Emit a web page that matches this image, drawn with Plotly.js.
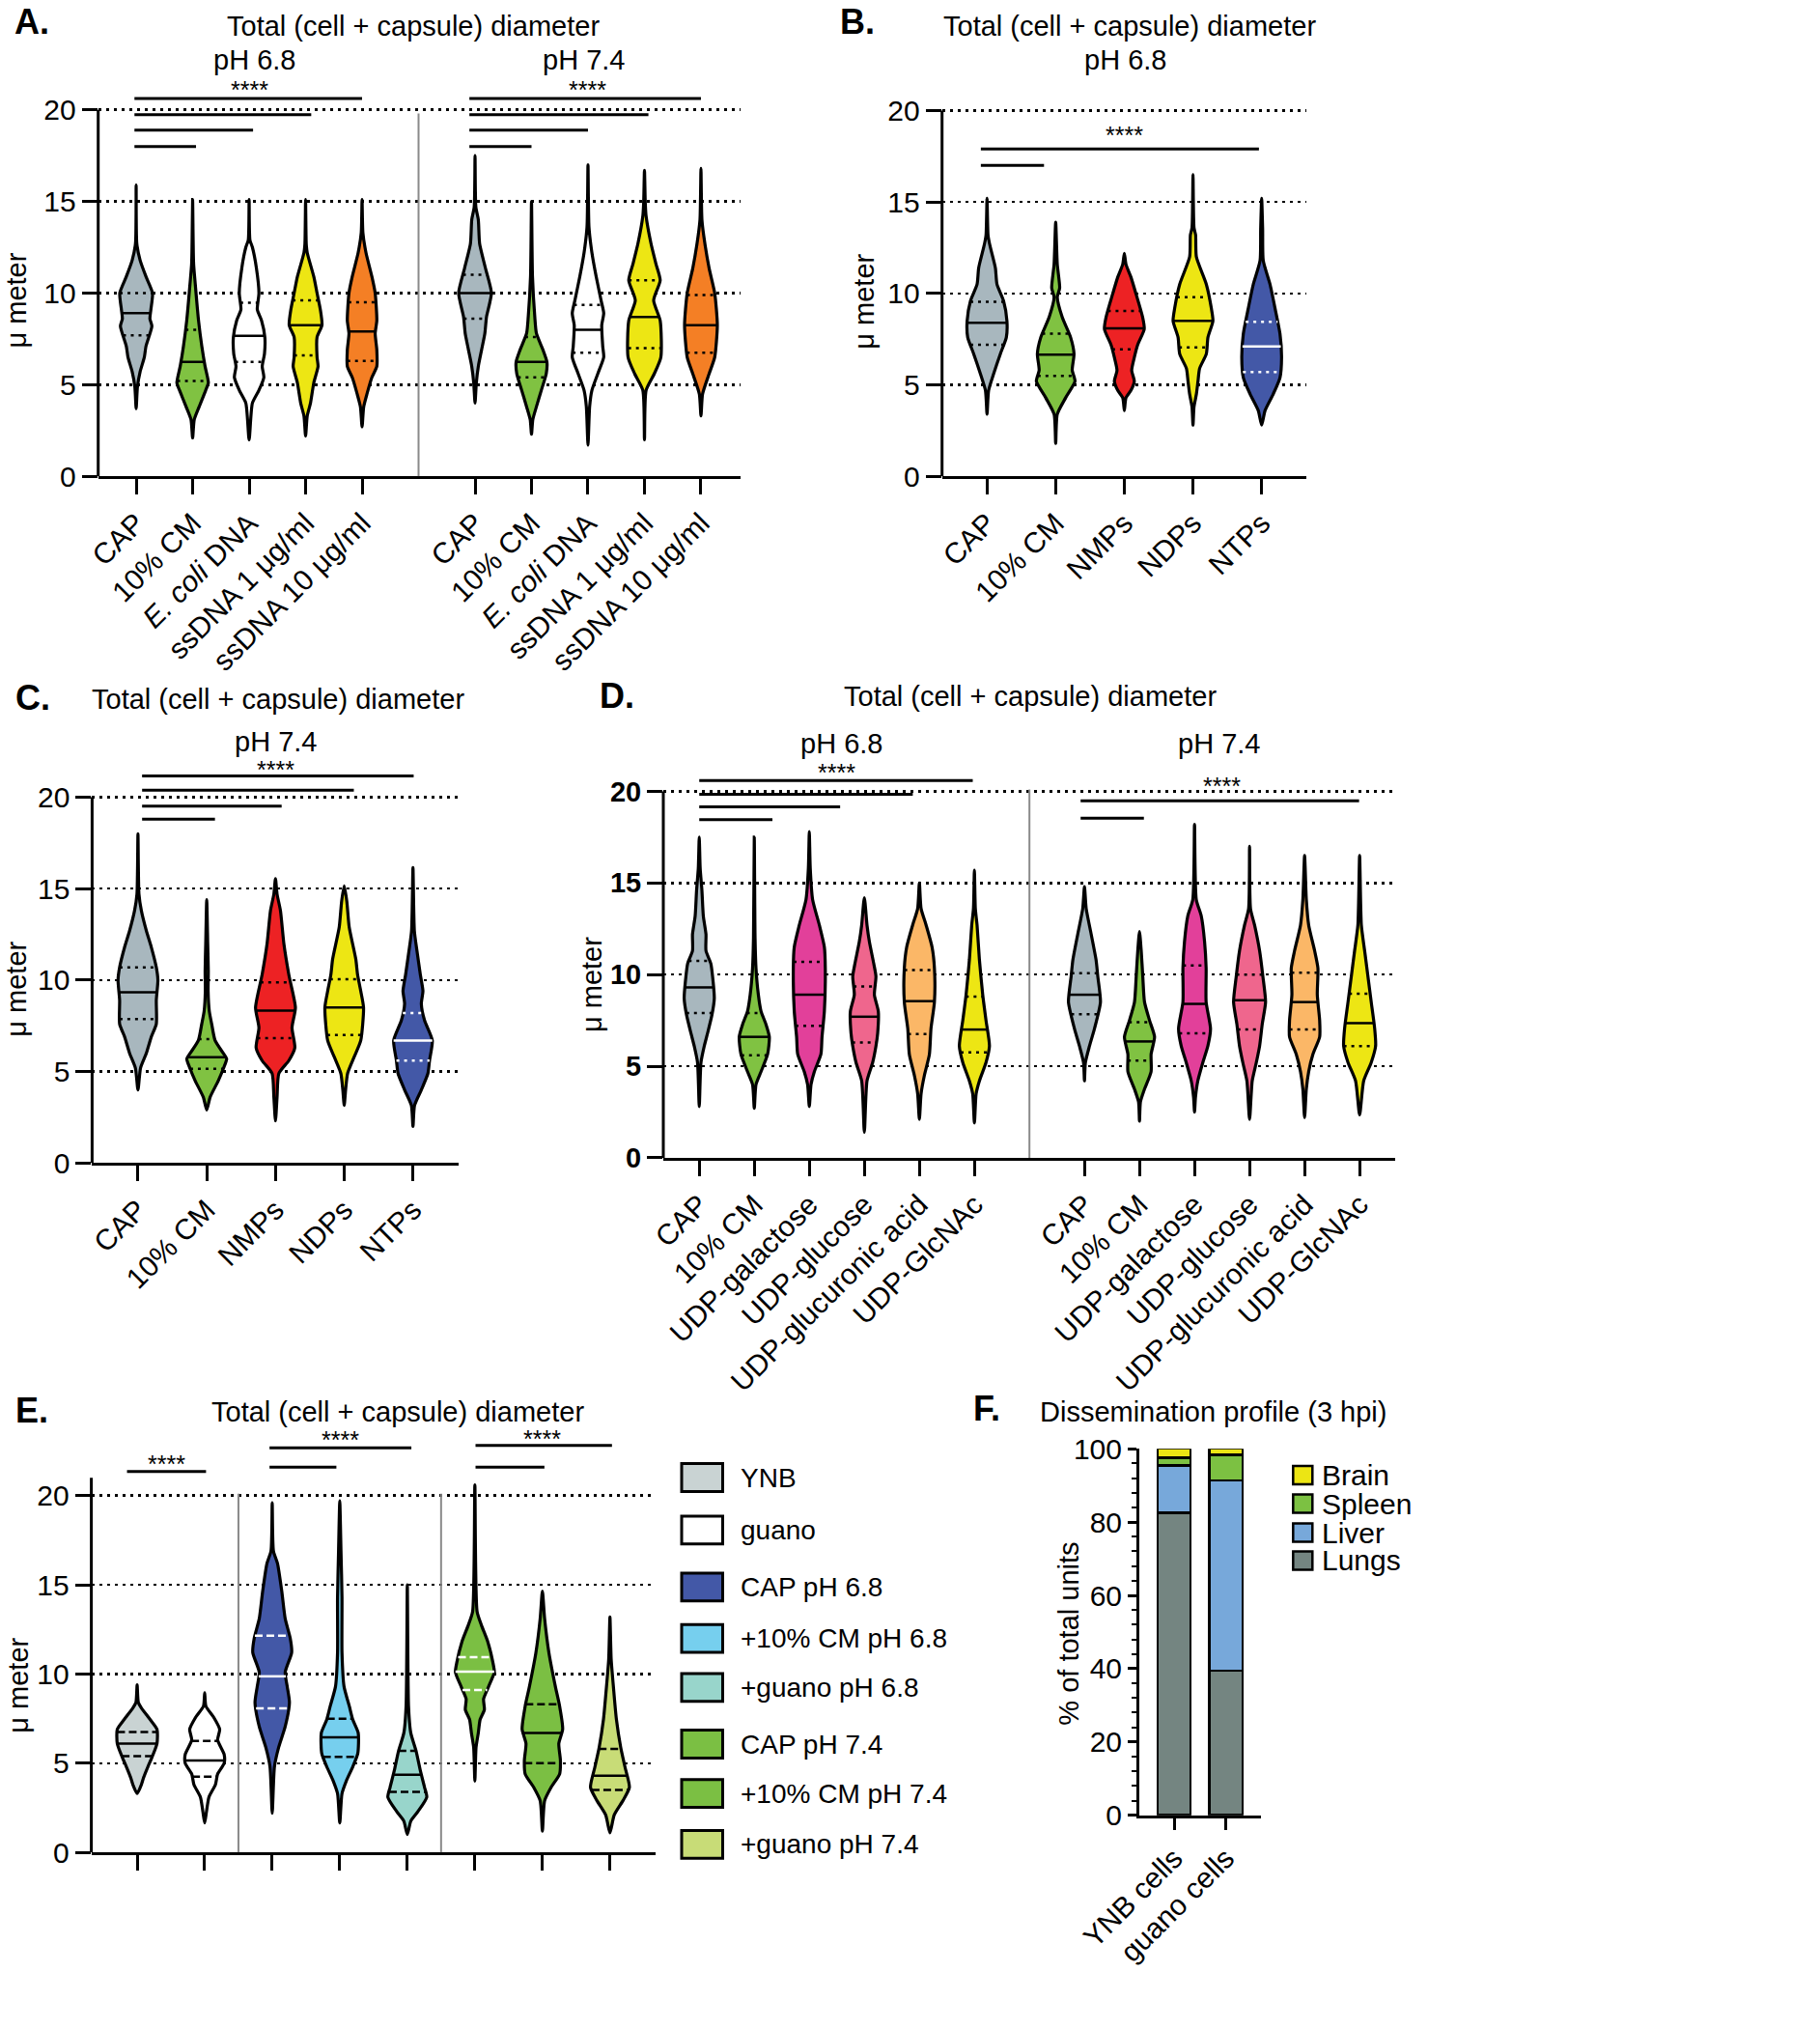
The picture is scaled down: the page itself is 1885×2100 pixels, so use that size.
<!DOCTYPE html>
<html>
<head>
<meta charset="utf-8">
<script src="https://cdn.plot.ly/plotly-3.0.1.min.js"></script>
<style>
  body{margin:0;background:#fff}
  #fig{width:1885px;height:2100px}
</style>
</head>
<body>
<div id="fig"></div>
<script>
// capsule diameter violins (A-E) + dissemination stacked bars (F)
const FONT='"Liberation Sans", Arial, sans-serif';
const W=1885, H=2100;
const px=x=>x/W, py=y=>1-y/H;

const GRAY='#a8b7be', GREEN='#80c242', WHITE='#ffffff', YELLOW='#ede614', ORANGE='#f47f25',
      RED='#ed2224', BLUE='#4358a7', MAGENTA='#e2409a', PINK='#ef668d', LORANGE='#fbb767';

// ---- Panel A : pH 6.8 | pH 7.4 ----
const A_pos=[0,1,2,3,4,6,7,8,9,10];
const A_cats=['CAP','10% CM','<i>E. coli</i> DNA','ssDNA 1 μg/ml','ssDNA 10 μg/ml'];
const A_labels=A_cats.concat(A_cats);
// [y, relative half width] bottom -> top
const A_shape=[
  [[3.7,0],[4.9,.08],[5.7,.24],[6.5,.5],[7.1,.6],[8.2,.96],[8.6,.84],[9.1,.9],[10.0,1],[10.9,.6],[11.8,.24],[12.7,.04],[15.9,0]],
  [[2.1,0],[3.1,.1],[3.8,.4],[4.7,.8],[5.1,.96],[6.0,.76],[7.1,.56],[8.5,.36],[10.5,.16],[11.6,.06],[13,.03],[15.1,0]],
  [[2.0,0],[4.0,.2],[4.7,.6],[5.4,.9],[6.0,.8],[6.7,.94],[7.6,.96],[8.5,.76],[9.1,.5],[10.0,.6],[11.4,.44],[12.5,.2],[12.9,.05],[15.1,0]],
  [[2.2,0],[3.3,.1],[4.0,.3],[5.1,.5],[6.0,.76],[6.5,.7],[7.6,.7],[8.25,1],[9.1,.9],[10.0,.7],[10.9,.5],[12.2,.1],[12.7,.04],[15.1,0]],
  [[2.7,0],[3.8,.1],[4.5,.3],[5.4,.6],[6.0,.9],[6.9,.9],[7.8,.8],[8.5,.9],[10.0,.8],[10.9,.6],[12.2,.24],[13.3,.05],[15.1,0]],
  [[4.0,0],[5.1,.08],[6.0,.2],[6.9,.4],[7.8,.6],[8.7,.7],[10.0,1],[11.35,.64],[12.7,.28],[14.0,.2],[14.7,.05],[17.5,0]],
  [[2.3,0],[3.1,.08],[3.8,.3],[4.7,.6],[5.6,.9],[6.25,.94],[6.9,.7],[7.8,.3],[8.7,.2],[10.9,.06],[15.0,0]],
  [[1.7,0],[3.8,.1],[4.7,.24],[5.6,.6],[6.5,.96],[7.1,.9],[8.25,.84],[8.9,.96],[9.6,.8],[10.9,.5],[12.2,.24],[13.6,.06],[17.0,0]],
  [[2.0,0],[4.7,.1],[5.6,.6],[6.5,1],[8.5,.96],[9.6,.56],[10.7,.96],[11.6,.7],[12.7,.4],[14.2,.1],[14.9,.05],[16.7,0]],
  [[3.3,0],[4.5,.1],[5.6,.5],[6.5,.84],[8.25,1],[10.0,.84],[11.35,.5],[12.7,.24],[14.0,.06],[16.8,0]]
];
const A_median=[8.9,6.25,7.67,8.25,7.9,10.0,6.25,8.0,8.7,8.25];
const A_q1=[7.7,5.2,6.25,6.6,6.3,8.6,5.4,6.75,7.0,6.75];
const A_q3=[10.0,8.0,9.47,9.6,9.5,11.0,7.6,9.35,10.7,9.9];
const A_fill=[GRAY,GREEN,WHITE,YELLOW,ORANGE,GRAY,GREEN,WHITE,YELLOW,ORANGE];
const A_sig=[[-0.03,4,20.62],[-0.03,3.1,19.73],[-0.03,2.07,18.89],[-0.03,1.06,18.0],
             [5.9,10,20.62],[5.9,9.07,19.73],[5.9,8,18.89],[5.9,7,18.0]];
const A_stars=[[2,21.1],[8,21.1]];

// ---- Panel B : pH 6.8 nucleotides ----
const B_pos=[0,1,2,3,4];
const B_labels=['CAP','10% CM','NMPs','NDPs','NTPs'];
const B_shape=[
  [[3.4,0],[4.7,.08],[5.6,.33],[6.7,.67],[7.6,.97],[8.5,1],[9.6,.83],[10.5,.5],[11.4,.42],[12.7,.13],[13.2,.05],[15.2,0]],
  [[1.8,0],[3.4,.08],[4.3,.5],[5.2,.97],[5.8,.83],[6.7,.92],[7.6,.75],[8.7,.33],[9.8,.08],[10.3,.2],[11.6,.08],[13.9,0]],
  [[3.6,0],[4.3,.08],[4.7,.33],[5.2,.5],[5.8,.37],[6.5,.5],[7.2,.67],[8.05,1],[8.7,.92],[10.0,.58],[10.9,.33],[11.6,.08],[12.2,0]],
  [[2.8,0],[3.8,.05],[4.5,.17],[5.2,.25],[5.9,.33],[6.7,.67],[7.6,.75],[8.5,1],[9.2,.92],[10.5,.67],[12.0,.17],[13.2,.13],[13.6,.05],[16.5,0]],
  [[2.8,0],[3.6,.17],[4.5,.58],[5.4,.92],[6.5,1],[7.8,.92],[9.2,.67],[10.5,.42],[11.8,.08],[13.5,.05],[15.2,0]]
];
const B_median=[8.4,6.65,8.1,8.5,7.1];
const B_q1=[7.2,5.5,6.95,7.05,5.7];
const B_q3=[9.55,7.8,9.05,9.8,8.45];
const B_fill=[GRAY,GREEN,RED,YELLOW,BLUE];
const B_sig=[[-0.09,3.96,17.9],[-0.09,0.83,17.0]];
const B_stars=[[2,18.66]];

// ---- Panel C : pH 7.4 nucleotides ----
const C_pos=[0,1,2,3,4];
const C_labels=['CAP','10% CM','NMPs','NDPs','NTPs'];
const C_shape=[
  [[4.0,0],[5.2,.13],[6.0,.42],[6.9,.67],[7.6,.92],[8.9,.92],[10.0,1],[10.7,.92],[11.8,.67],[12.7,.42],[13.8,.17],[14.7,.05],[18.0,0]],
  [[2.9,0],[3.6,.17],[4.5,.58],[5.15,.83],[5.7,1],[6.0,.83],[6.7,.42],[7.6,.25],[8.3,.13],[9.4,.07],[10.5,.08],[12,.05],[14.4,0]],
  [[2.3,0],[3.6,.08],[4.9,.17],[5.6,.67],[6.3,.97],[7.4,.83],[8.5,1],[10.3,.67],[12.0,.42],[13.8,.25],[14.7,.08],[15.55,0]],
  [[3.15,0],[4.0,.07],[4.9,.17],[5.8,.5],[6.7,.83],[8.5,.97],[9.4,.83],[10.3,.67],[11.15,.58],[12.9,.25],[14.3,.13],[15.15,0]],
  [[2.0,0],[3.15,.08],[4.0,.42],[4.9,.75],[5.6,.83],[6.7,.97],[7.8,.58],[8.7,.42],[9.4,.5],[10.3,.37],[11.6,.2],[12.7,.07],[16.15,0]]
];
const C_median=[9.33,5.78,8.33,8.5,6.7];
const C_q1=[7.87,5.15,6.82,7.0,5.6];
const C_q3=[10.7,6.78,9.87,10.05,8.2];
const C_fill=[GRAY,GREEN,RED,YELLOW,BLUE];
const C_sig=[[0.06,4.01,21.16],[0.06,3.14,20.38],[0.06,2.09,19.51],[0.06,1.12,18.8]];
const C_stars=[[2,21.5]];

// ---- Panel D : UDP sugars, pH 6.8 | pH 7.4 ----
const D_pos=[0,1,2,3,4,5,7,8,9,10,11,12];
const D_cats=['CAP','10% CM','UDP-galactose','UDP-glucose','UDP-glucuronic acid','UDP-GlcNAc'];
const D_labels=D_cats.concat(D_cats);
const D_shape=[
  [[2.8,0],[5.2,.11],[6.1,.32],[6.8,.53],[7.8,.81],[8.7,.96],[9.9,.85],[10.6,.74],[11.3,.43],[12.2,.43],[13.2,.26],[14.6,.17],[15.8,.06],[17.5,0]],
  [[2.7,0],[4.0,.11],[4.7,.43],[5.65,.85],[6.6,.96],[7.3,.74],[8.0,.43],[8.9,.26],[10.35,.11],[12,.05],[17.5,0]],
  [[2.8,0],[4.0,.11],[4.7,.32],[5.65,.74],[6.6,.81],[8.0,.96],[10.35,1.02],[11.5,.96],[12.7,.64],[14.1,.21],[15.8,.06],[17.8,0]],
  [[1.4,0],[4.2,.17],[5.2,.53],[6.1,.74],[6.8,.85],[8.0,.89],[8.9,.64],[9.9,.74],[10.6,.6],[11.8,.32],[12.7,.17],[14.2,0]],
  [[2.1,0],[3.5,.11],[4.5,.32],[5.65,.64],[7.05,.74],[8.5,.96],[10.35,.96],[11.5,.81],[12.7,.43],[13.6,.11],[15.0,0]],
  [[1.9,0],[3.5,.11],[4.2,.32],[5.2,.74],[6.1,.96],[7.5,.74],[8.9,.53],[10.8,.32],[12.7,.17],[13.6,.06],[15.7,0]],
  [[4.2,0],[5.2,.06],[6.1,.32],[7.05,.64],[8.5,1.02],[9.9,.85],[10.8,.74],[12.2,.43],[13.6,.11],[14.8,0]],
  [[2.0,0],[3.05,.06],[3.75,.32],[4.7,.74],[5.65,.74],[6.6,.96],[7.5,.64],[8.5,.32],[9.9,.21],[11.3,.11],[12.35,0]],
  [[2.5,0],[3.3,.06],[4.2,.21],[5.2,.53],[6.1,.85],[7.05,1.02],[8.5,.74],[10.35,.74],[11.8,.64],[13.2,.43],[14.1,.11],[18.2,0]],
  [[2.1,0],[4.2,.17],[5.2,.43],[6.1,.64],[7.3,.81],[8.5,1.02],[9.9,.85],[11.3,.64],[12.7,.32],[13.6,.06],[17.0,0]],
  [[2.2,0],[3.75,.11],[4.7,.26],[5.65,.53],[6.6,.96],[7.5,.96],[8.9,.81],[10.35,.85],[11.3,.64],[12.7,.26],[14.1,.11],[16.5,0]],
  [[2.35,0],[4.2,.26],[5.2,.74],[6.1,1.02],[7.05,.96],[8.5,.74],[9.9,.53],[11.3,.32],[12.7,.11],[16.5,0]]
];
const D_median=[9.3,6.6,8.9,7.7,8.55,7.0,8.9,6.35,8.4,8.6,8.5,7.35];
const D_q1=[7.9,5.6,7.2,6.3,6.75,5.75,7.83,5.3,6.8,7.0,7.0,6.1];
const D_q3=[10.75,7.9,10.7,9.35,10.25,8.8,10.07,7.4,10.5,10.0,10.1,8.95];
const D_fill=[GRAY,GREEN,MAGENTA,PINK,LORANGE,YELLOW,GRAY,GREEN,MAGENTA,PINK,LORANGE,YELLOW];
const D_sig=[[0,4.97,20.59],[0,3.88,19.84],[0,2.56,19.15],[0,1.33,18.45],[6.93,11.99,19.48],[6.93,8.08,18.54]];
const D_stars=[[2.5,21.05],[9.5,20.27]];

// ---- Panel E : YNB / guano / CAP groups ----
const E_pos=[0,1,2,3,4,5,6,7];
const E_names=['YNB','guano','CAP pH 6.8','+10% CM pH 6.8','+guano pH 6.8','CAP pH 7.4','+10% CM pH 7.4','+guano pH 7.4'];
const E_shape=[
  [[3.3,0],[3.8,.21],[4.2,.32],[4.8,.53],[5.35,.74],[6.1,.98],[6.9,.98],[7.45,.64],[8.1,.21],[8.4,.06],[9.4,0]],
  [[1.65,0],[2.3,.09],[3.1,.21],[3.8,.53],[4.4,.64],[5.0,.96],[5.5,.96],[6.3,.64],[6.9,.74],[7.6,.43],[8.2,.06],[8.95,0]],
  [[2.2,0],[4.8,.11],[5.9,.32],[7.05,.64],[8.4,.85],[9.3,.74],[10.1,.64],[11.2,.96],[12.0,.89],[13.1,.64],[14.65,.47],[16.2,.26],[16.9,.06],[19.6,0]],
  [[1.65,0],[3.3,.11],[4.0,.32],[4.8,.64],[5.55,.89],[6.7,.91],[7.45,.64],[8.2,.47],[9.3,.21],[11.2,.11],[14.3,.11],[16.9,.06],[19.7,0]],
  [[1.0,0],[1.75,.17],[2.3,.53],[3.1,.96],[3.65,.85],[4.6,.64],[5.7,.43],[6.7,.17],[8.2,.06],[15.0,0]],
  [[4.0,0],[5.9,.06],[6.7,.17],[7.45,.26],[8.0,.47],[8.6,.43],[9.3,.68],[10.1,.96],[10.65,.89],[11.8,.64],[12.75,.32],[13.5,.11],[20.6,0]],
  [[1.2,0],[2.9,.11],[3.65,.43],[4.4,.85],[5.15,.89],[6.1,.81],[6.9,1.0],[8.2,.85],[9.3,.64],[11.2,.32],[13.1,.11],[14.65,0]],
  [[1.1,0],[2.1,.21],[2.9,.64],[3.65,.96],[4.8,.74],[5.9,.53],[7.45,.32],[9.3,.17],[10.85,.06],[13.2,0]]
];
const E_median=[6.1,5.15,9.87,6.45,4.35,10.13,6.7,4.3];
const E_q1=[5.4,4.25,8.07,5.35,3.4,9.1,5.0,3.5];
const E_q3=[6.75,6.25,12.15,7.5,5.7,10.95,8.3,5.8];
const E_fill=['#c9d3d3','#ffffff','#4358a7','#76cfee','#98d5cb','#7bbf43','#7bbf43','#c8dc77'];
const E_sig=[[-0.15,1.02,21.35],[1.96,4.06,22.68],[1.96,2.95,21.59],[5.01,7.03,22.81],[5.01,6.03,21.59]];
const E_stars=[[0.43,21.76],[3.01,23.12],[5.99,23.19]];

// ---- Panel F : dissemination profile ----
const F_groups=['YNB cells','guano cells'];
const F_organs=['Lungs','Liver','Spleen','Brain'];
const F_lungs=[82.5,39.5];
const F_liver=[13.0,51.9];
const F_spleen=[2.0,6.9];
const F_brain=[2.5,1.7];
const F_colors=['#748581','#77a8da','#7cc142','#ece514'];

// line colours of median / quartile marks
const BLK='#000', WHT='#ffffff';
const A_line=A_pos.map(()=>BLK);
const B_line=[BLK,BLK,BLK,BLK,WHT];
const C_line=[BLK,BLK,BLK,BLK,WHT];
const D_line=D_pos.map(()=>BLK);
const E_line=[BLK,BLK,WHT,BLK,BLK,WHT,BLK,BLK];

function widthAt(p,y){
  for(let i=1;i<p.length;i++){
    if(y<=p[i][0]){ const a=p[i-1],b=p[i]; const t=(y-a[0])/(b[0]-a[0]); return a[1]+t*(b[1]-a[1]); }
  }
  return 0;
}

const traces=[];
function violins(ax,ay,pos,shape,med,q1,q3,fill,lineCol,scale,qdash){
  pos.forEach((cx,i)=>{
    const p=shape[i], xs=[], ys=[];
    p.forEach(([y,w])=>{ xs.push(cx+w*scale); ys.push(y); });
    for(let j=p.length-2;j>=0;j--){ xs.push(cx-p[j][1]*scale); ys.push(p[j][0]); }
    traces.push({type:'scatter',mode:'lines',x:xs,y:ys,xaxis:ax,yaxis:ay,fill:'toself',fillcolor:fill[i],
      line:{color:'#000',width:3.2,shape:'spline',smoothing:0.6},hoverinfo:'skip',showlegend:false});
    const seg=(y,dash)=>{
      const w=widthAt(p,y)*scale;
      traces.push({type:'scatter',mode:'lines',x:[cx-w,cx+w],y:[y,y],xaxis:ax,yaxis:ay,
        line:{color:lineCol[i],width:2.5,dash:dash},hoverinfo:'skip',showlegend:false});
    };
    seg(med[i],'solid'); seg(q1[i],qdash); seg(q3[i],qdash);
  });
}
violins('x','y',A_pos,A_shape,A_median,A_q1,A_q3,A_fill,A_line,0.29,'3px,5px');
violins('x2','y2',B_pos,B_shape,B_median,B_q1,B_q3,B_fill,B_line,0.29,'3px,5px');
violins('x3','y3',C_pos,C_shape,C_median,C_q1,C_q3,C_fill,C_line,0.29,'3px,5px');
violins('x4','y4',D_pos,D_shape,D_median,D_q1,D_q3,D_fill,D_line,0.285,'3px,5px');
violins('x5','y5',E_pos,E_shape,E_median,E_q1,E_q3,E_fill,E_line,0.30,'8px,4px');

[F_lungs,F_liver,F_spleen,F_brain].forEach((vals,k)=>{
  traces.push({type:'bar',x:[0,1],y:vals,name:F_organs[k],xaxis:'x6',yaxis:'y6',width:0.64,
    marker:{color:F_colors[k],line:{color:'#000',width:2.5}},hoverinfo:'skip',showlegend:false});
});

// ---- axes ----
const tf={family:FONT,size:30,color:'#000'};
function yAx(b,t,range,extra){
  return Object.assign({domain:[py(b),py(t)],range:range,tickvals:[0,5,10,15,20],ticks:'outside',ticklen:16,tickwidth:3,
    tickcolor:'#000',showline:false,showgrid:true,gridcolor:'#000',gridwidth:2.5,griddash:'3px,5px',zeroline:false,
    tickfont:tf,fixedrange:true},extra||{});
}
function xAx(l,r,range,vals,text,extra){
  return Object.assign({domain:[px(l),px(r)],range:range,tickvals:vals,ticktext:text,tickangle:-45,ticks:'outside',
    ticklen:16,tickwidth:3,tickcolor:'#000',showline:true,linewidth:3,linecolor:'#000',showgrid:false,zeroline:false,
    tickfont:tf,fixedrange:true},extra||{});
}

const layout={
  width:W,height:H,margin:{l:0,r:0,t:0,b:0},paper_bgcolor:'#fff',plot_bgcolor:'rgba(0,0,0,0)',
  showlegend:false,barmode:'stack',font:{family:FONT,color:'#000'},
  xaxis: xAx(101.7,766.7,[-0.672,10.696],A_pos,A_labels,{anchor:'y'}),
  yaxis: yAx(493.3,75.7,[0,22],{anchor:'x'}),
  xaxis2:xAx(975.7,1353.3,[-0.655,4.655],B_pos,B_labels,{anchor:'y2'}),
  yaxis2:yAx(493.3,95.6,[0,21],{anchor:'x2'}),
  xaxis3:xAx(95.4,474.5,[-0.667,4.657],C_pos,C_labels,{anchor:'y3'}),
  yaxis3:yAx(1204.3,787.6,[0,22],{anchor:'x3'}),
  xaxis4:xAx(687,1445,[-0.653,12.646],D_pos,D_labels,{anchor:'y4'}),
  yaxis4:yAx(1198.9,791.0,[0,21.5],{anchor:'x4',tickfont:{family:FONT,size:29,color:'#000',weight:700}}),
  xaxis5:xAx(94.6,678.6,[-0.678,7.67],E_pos,E_pos.map(()=>''),{anchor:'y5',showticklabels:false}),
  yaxis5:yAx(1918.2,1484.0,[0,23.5],{anchor:'x5'}),
  xaxis6:xAx(1180,1306,[-0.672,1.679],[0,1],F_groups,{anchor:'y6',ticklen:12}),
  yaxis6:{domain:[py(1879.7),py(1500.2)],range:[0,100],tickvals:[0,20,40,60,80,100],ticks:'outside',ticklen:9,tickwidth:3,
    tickcolor:'#000',showline:true,linewidth:3,linecolor:'#000',showgrid:false,zeroline:false,tickfont:tf,anchor:'x6',
    minor:{dtick:4,ticks:'outside',ticklen:5,tickwidth:2,tickcolor:'#000'},fixedrange:true},
  shapes:[],annotations:[]
};

// visible y axis lines stop at 20 (21 for E)
[[101.7,'y',20],[975.7,'y2',20],[95.4,'y3',20],[687,'y4',20],[94.6,'y5',21]].forEach(([x,yr,top])=>{
  layout.shapes.push({type:'line',xref:'paper',yref:yr,x0:px(x),x1:px(x),y0:0,y1:top,line:{color:'#000',width:3}});
});
// group separators
[['x','y',5,19.8],['x4','y4',6,20.1],['x5','y5',1.5,20.1],['x5','y5',4.5,20.1]].forEach(([xr,yr,x,top])=>{
  layout.shapes.push({type:'line',xref:xr,yref:yr,x0:x,x1:x,y0:0,y1:top,line:{color:'#8a8a8a',width:2}});
});
// significance bars + stars
function sig(xr,yr,bars,stars){
  bars.forEach(([a,b,y])=>layout.shapes.push({type:'line',xref:xr,yref:yr,x0:a,x1:b,y0:y,y1:y,line:{color:'#000',width:3}}));
  stars.forEach(([x,y])=>layout.annotations.push({xref:xr,yref:yr,x:x,y:y,text:'****',showarrow:false,
    xanchor:'center',yanchor:'middle',font:{family:FONT,size:25,color:'#000'}}));
}
sig('x','y',A_sig,A_stars);
sig('x2','y2',B_sig,B_stars);
sig('x3','y3',C_sig,C_stars);
sig('x4','y4',D_sig,D_stars);
sig('x5','y5',E_sig,E_stars);

function txt(x,y,text,size,extra){
  layout.annotations.push(Object.assign({xref:'paper',yref:'paper',x:px(x),y:py(y),text:text,showarrow:false,
    xanchor:'center',yanchor:'middle',font:{family:FONT,size:size,color:'#000'}},extra||{}));
}
const TT='Total (cell + capsule) diameter';
// panel letters
[['A.',13,23],['B.',868,23],['C.',14,722],['D.',619,721],['E.',14,1460],['F.',1006,1458]].forEach(([t,x,y])=>
  txt(x,y,'<b>'+t+'</b>',36,{xanchor:'left'}));
// titles
txt(428,27.4,TT,29); txt(263,62.3,'pH 6.8',29); txt(604,62.3,'pH 7.4',29);
txt(1170,27.4,TT,29); txt(1165,62.3,'pH 6.8',29);
txt(287.5,723.7,TT,29); txt(285,767.9,'pH 7.4',29);
txt(1067,721.3,TT,29); txt(871.3,770.4,'pH 6.8',29); txt(1262.3,770.4,'pH 7.4',29);
txt(411.8,1461.6,TT,29);
txt(1256.7,1461.6,'Dissemination profile (3 hpi)',29);
// y axis titles
[[17,311.5],[894.7,312],[17,1024.7],[613,1020],[19,1745.7]].forEach(([x,y])=>txt(x,y,'μ meter',29,{textangle:-90}));
txt(1106.7,1692,'% of total units',29,{textangle:-90});

// legend E
const E_legY=[1530,1584.3,1643.3,1696.6,1747.4,1806,1857.2,1909.8];
E_names.forEach((n,i)=>{
  const yc=E_legY[i];
  layout.shapes.push({type:'rect',xref:'paper',yref:'paper',x0:px(706),x1:px(748.5),y0:py(yc+14.4),y1:py(yc-14.4),
    fillcolor:E_fill[i],line:{color:'#000',width:3}});
  txt(764.6,yc,n,28,{xanchor:'left'});
});
// legend F (top: Brain ... bottom: Lungs)
const F_legY=[1527.5,1557,1587.1,1615.9];
[3,2,1,0].forEach((k,r)=>{
  const yc=F_legY[r];
  layout.shapes.push({type:'rect',xref:'paper',yref:'paper',x0:px(1339.3),x1:px(1359.3),y0:py(yc+9.5),y1:py(yc-9.5),
    fillcolor:F_colors[k],line:{color:'#000',width:2.5}});
  txt(1366.7,yc,F_organs[k],30,{xanchor:'left'});
});

Plotly.newPlot('fig',traces,layout,{displayModeBar:false,staticPlot:true});
</script>
</body>
</html>
